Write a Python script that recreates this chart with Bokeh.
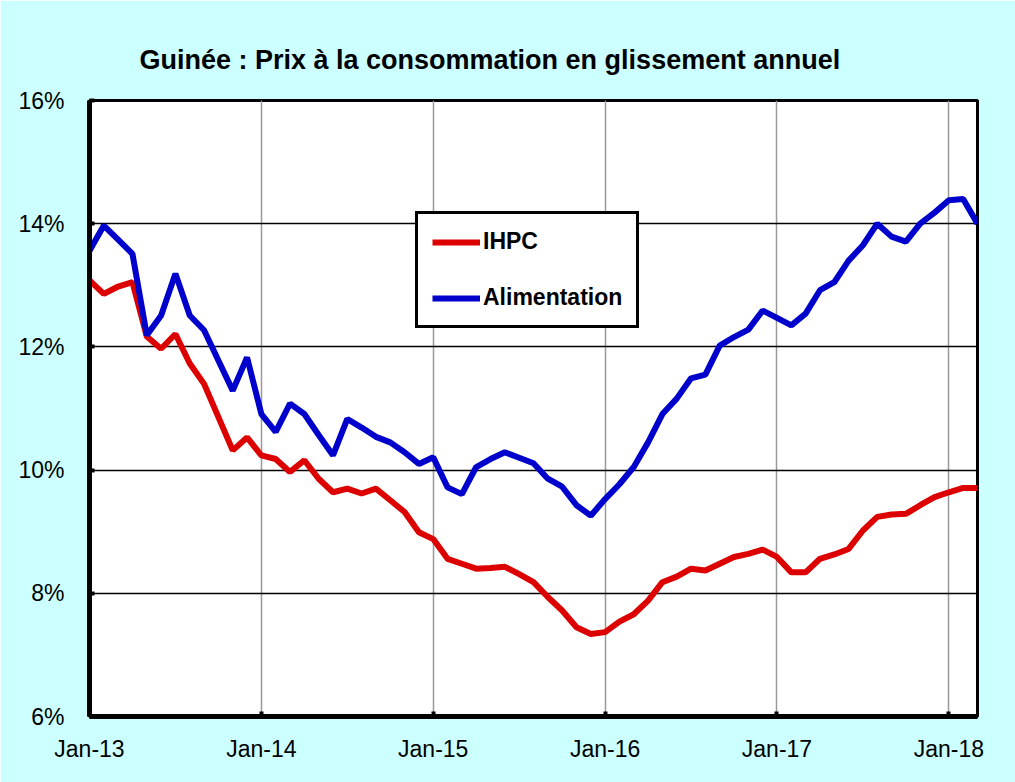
from bokeh.plotting import figure
from bokeh.models import (Range1d, FixedTicker, Legend, LegendItem, Title, ColumnDataSource)
from bokeh.embed import file_html
from bokeh.resources import INLINE

# ---- data ----
tick_positions = [0, 12, 24, 36, 48, 60]
tick_labels = ["Jan-13", "Jan-14", "Jan-15", "Jan-16", "Jan-17", "Jan-18"]
y_ticks = [6, 8, 10, 12, 14, 16]

ihpc = [13.08, 12.86, 12.98, 13.05, 12.17, 11.97, 12.21, 11.73, 11.40, 10.86,
        10.32, 10.53, 10.24, 10.18, 9.97, 10.16, 9.86, 9.64, 9.70, 9.62,
        9.70, 9.51, 9.32, 8.99, 8.88, 8.56, 8.48, 8.40, 8.41, 8.43,
        8.31, 8.18, 7.94, 7.72, 7.45, 7.34, 7.37, 7.54, 7.66, 7.88,
        8.18, 8.27, 8.40, 8.37, 8.48, 8.59, 8.64, 8.71, 8.59, 8.34,
        8.34, 8.56, 8.63, 8.72, 9.02, 9.24, 9.28, 9.29, 9.43, 9.56,
        9.64, 9.71, 9.71]

alimentation = [13.56, 13.97, 13.74, 13.51, 12.19, 12.51, 13.19, 12.51, 12.27, 11.78,
                11.29, 11.83, 10.91, 10.62, 11.08, 10.91, 10.57, 10.24, 10.83, 10.69,
                10.54, 10.45, 10.29, 10.10, 10.21, 9.72, 9.61, 10.05, 10.18, 10.29,
                10.20, 10.11, 9.86, 9.73, 9.43, 9.26, 9.53, 9.77, 10.05, 10.45,
                10.91, 11.16, 11.49, 11.55, 12.02, 12.16, 12.28, 12.59, 12.47, 12.35,
                12.54, 12.92, 13.05, 13.40, 13.65, 14.00, 13.79, 13.71, 14.00, 14.18,
                14.38, 14.40, 14.00]

month_index = list(range(len(ihpc)))

src = ColumnDataSource(dict(x=month_index, ihpc=ihpc, alim=alimentation))

FONT = "Liberation Sans"

p = figure(width=1015, height=782, output_backend="svg", toolbar_location=None,
           x_range=Range1d(0, len(ihpc) - 1), y_range=Range1d(6, 16),
           min_border_left=89, min_border_right=38, min_border_top=100,
           min_border_bottom=66)

p.border_fill_color = "#CCFFFF"
p.background_fill_color = "white"
p.outline_line_color = "black"
p.outline_line_width = 3

title = Title(text="Guinée : Prix à la consommation en glissement annuel",
              align="left", offset=50, text_font=FONT, text_font_size="27px",
              text_font_style="bold", text_color="black", standoff=51)
p.add_layout(title, "above")

# axes
p.xaxis.ticker = FixedTicker(ticks=tick_positions)
p.xaxis.major_label_overrides = {pos: lab for pos, lab in zip(tick_positions, tick_labels)}
p.yaxis.ticker = FixedTicker(ticks=y_ticks)
p.yaxis.major_label_overrides = {v: f"{v}%" for v in y_ticks}

for ax in (p.xaxis[0], p.yaxis[0]):
    ax.axis_line_color = "black"
    ax.axis_line_width = 5
    ax.major_tick_in = 5
    ax.major_tick_out = 0
    ax.major_tick_line_width = 4
    ax.major_tick_line_color = "black"
    ax.minor_tick_line_color = None
    ax.major_label_text_font = FONT
    ax.major_label_text_font_size = "23px"
    ax.major_label_text_color = "black"
p.xaxis.major_label_standoff = 19
p.yaxis.major_label_standoff = 25

p.ygrid.grid_line_color = "black"
p.ygrid.grid_line_width = 1.3
p.xgrid.grid_line_color = "#999999"
p.xgrid.grid_line_width = 1.5

r1 = p.line("x", "ihpc", source=src, line_color="#DD0000", line_width=6)
r2 = p.line("x", "alim", source=src, line_color="#0000CC", line_width=6)

legend = Legend(items=[LegendItem(label="IHPC", renderers=[r1]),
                       LegendItem(label="Alimentation", renderers=[r2])],
                location=(326, 388), margin=0, padding=14, spacing=29,
                glyph_width=48, glyph_height=26, label_height=26, label_standoff=3,
                label_text_font=FONT, label_text_font_size="23px",
                label_text_font_style="bold", label_text_color="black",
                border_line_color="black", border_line_width=3, border_line_alpha=1,
                background_fill_color="white", background_fill_alpha=1)
p.add_layout(legend)

open("out.html", "w").write(file_html(p, INLINE))
